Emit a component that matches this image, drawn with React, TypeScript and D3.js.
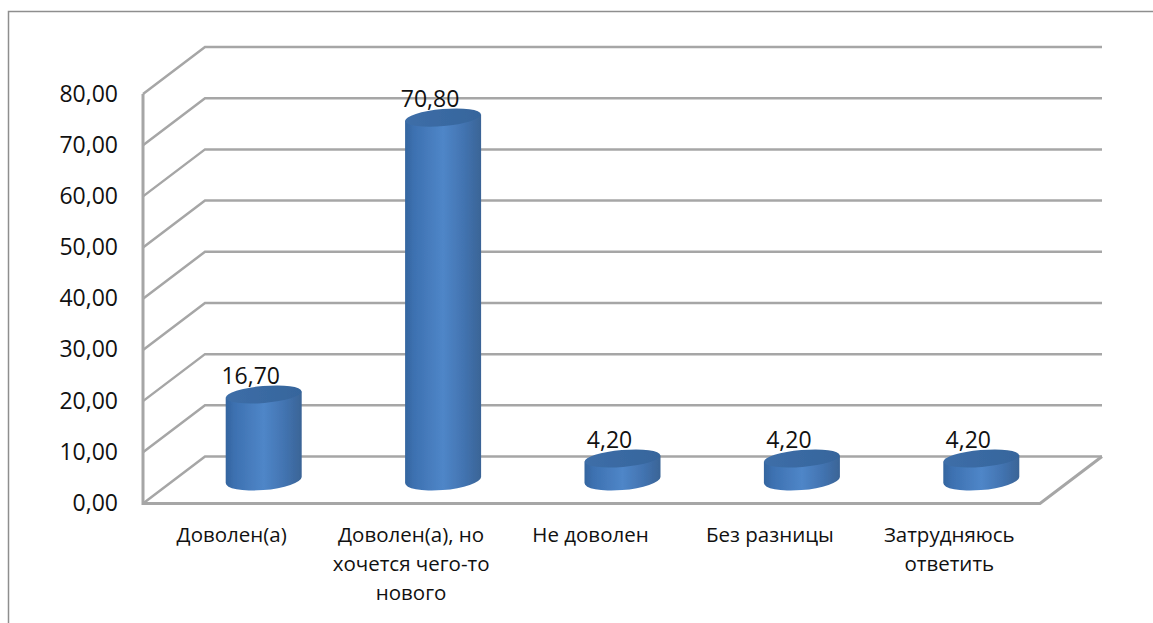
import React from "react";
import * as d3 from "d3";

// Survey answers and their shares, in percent
const categories = ["Доволен(а)", "Доволен(а), но хочется чего-то нового", "Не доволен", "Без разницы", "Затрудняюсь ответить"];
const categoryLines = [["Доволен(а)"], ["Доволен(а), но", "хочется чего-то", "нового"], ["Не доволен"], ["Без разницы"], ["Затрудняюсь", "ответить"]];
const values = [16.7, 70.8, 4.2, 4.2, 4.2];
const valueLabels = ["16,70", "70,80", "4,20", "4,20", "4,20"];
const ticks = [0, 10, 20, 30, 40, 50, 60, 70, 80];
const tickLabels = ["0,00", "10,00", "20,00", "30,00", "40,00", "50,00", "60,00", "70,00", "80,00"];

const W = 1153, H = 623;
const font = "'Open Sans', 'Noto Sans', sans-serif";
const gridColor = "#a6a6a6";

// Front plane of the 3D box and the offset of its back wall
const y = d3.scaleLinear().domain([0, 80]).range([503.5, 94]);
const x = d3.scaleBand<string>().domain(categories).range([143, 1040]);
const depthX = 62, depthY = -47;

export default function App() {
  const rx = 38, ry = 8.5, tilt = -5;
  return (
    <svg width={W} height={H} style={{ position: "absolute", left: 0, top: 0, background: "#fff" }}>
      <defs>
        <linearGradient id="side" x1="0" x2="1" y1="0" y2="0">
          <stop offset="0" stopColor="#34659f" />
          <stop offset="0.12" stopColor="#3d71b1" />
          <stop offset="0.5" stopColor="#4f86c8" />
          <stop offset="0.78" stopColor="#4273b0" />
          <stop offset="1" stopColor="#3a6496" />
        </linearGradient>
        <linearGradient id="cap" x1="0" x2="1" y1="0" y2="0">
          <stop offset="0" stopColor="#3d6ea8" />
          <stop offset="1" stopColor="#36659c" />
        </linearGradient>
        <filter id="soft" x="-10%" y="-10%" width="120%" height="120%">
          <feGaussianBlur stdDeviation="0.6" />
        </filter>
      </defs>

      {/* Chart frame, running off the page at the bottom and right */}
      <path d={`M8.5 ${H} V11.5 H${W}`} fill="none" stroke="#8e8e8e" strokeWidth={1.5} />

      {/* Floor and grid lines */}
      {ticks.map((t) => (
        <path
          key={t}
          d={d3.line()([
            [x.range()[0], y(t)],
            [x.range()[0] + depthX, y(t) + depthY],
            [x.range()[1] + depthX, y(t) + depthY],
          ]) as string}
          fill="none"
          stroke={gridColor}
          strokeWidth={2.5}
        />
      ))}
      <path
        d={d3.line()([
          [x.range()[0], y(80)],
          [x.range()[0], y(0)],
          [x.range()[1], y(0)],
          [x.range()[1] + depthX, y(0) + depthY],
        ]) as string}
        fill="none"
        stroke={gridColor}
        strokeWidth={3}
      />

      {/* Axis tick labels */}
      {ticks.map((t, i) => (
        <text key={t} x={118} y={y(t) + 7.5} textAnchor="end" fontFamily={font} fontSize={23} fill="#111">
          {tickLabels[i]}
        </text>
      ))}

      {/* Cylinders stand halfway into the box */}
      {categories.map((c, i) => {
        const cx = (x(c) as number) + x.bandwidth() / 2 + depthX / 2;
        const base = y(0) + depthY / 2;
        const top = base - (y(0) - y(values[i]));
        return (
          <g key={c} filter="url(#soft)">
            <path
              d={`M${cx - rx} ${top + 3} V${base + 3} A${rx} ${ry + 1.5} ${tilt} 0 0 ${cx + rx} ${base - 3} V${top - 3} Z`}
              fill="url(#side)"
            />
            <ellipse cx={cx} cy={top} rx={rx} ry={ry} transform={`rotate(${tilt} ${cx} ${top})`} fill="url(#cap)" />
          </g>
        );
      })}

      {/* Value labels above each cylinder */}
      {categories.map((c, i) => {
        const cx = (x(c) as number) + x.bandwidth() / 2 + depthX / 2;
        const top = y(0) + depthY / 2 - (y(0) - y(values[i]));
        return (
          <text key={c} x={cx - 13} y={top - 11} textAnchor="middle" fontFamily={font} fontSize={23} fill="#111">
            {valueLabels[i]}
          </text>
        );
      })}

      {/* Category labels, wrapped by hand */}
      {categories.map((c, i) => (
        <text key={c} textAnchor="middle" fontFamily={font} fontSize={20.5} fill="#111">
          {categoryLines[i].map((l, j) => (
            <tspan key={j} x={(x(c) as number) + x.bandwidth() / 2 - 1} y={542 + j * 29}>
              {l}
            </tspan>
          ))}
        </text>
      ))}
    </svg>
  );
}
